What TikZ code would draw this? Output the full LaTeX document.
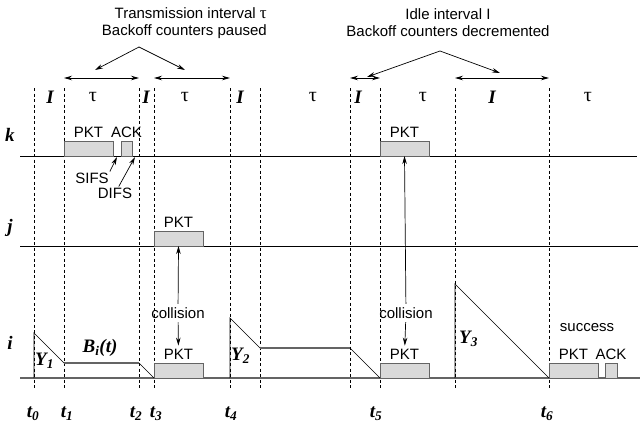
\documentclass[tikz,border=0pt]{standalone}
\usepackage{fontspec}
\setmainfont{Liberation Sans}
\newfontfamily\tms{Liberation Serif}
\usetikzlibrary{arrows.meta, positioning}
\definecolor{siggrey}{RGB}{100,100,100}
\definecolor{boxgrey}{RGB}{217,217,217}

\begin{document}
\begin{tikzpicture}[
  x=1pt, y=-1pt,
  font=\fontsize{15}{17}\selectfont,
  sig/.style={black, line width=0.9pt},
  isig/.style={siggrey, line width=1.3pt},
  ramp/.style={black, line width=0.7pt},
  slot/.style={black, dash pattern=on 3pt off 2.5pt, line width=0.7pt},
  pkt/.style={draw=siggrey, fill=boxgrey, line width=0.9pt, inner sep=0pt,
              outer sep=0pt, minimum height=15pt, anchor=south west},
  span/.style={{Stealth[length=8pt,width=4.5pt]}-{Stealth[length=8pt,width=4.5pt]},
               line width=0.8pt},
  pnt/.style={-{Stealth[length=8pt,width=4.5pt]}, line width=0.7pt},
  sym/.style={font=\tms\fontsize{19}{19}\selectfont\bfseries\itshape},
  gk/.style={font=\tms\fontsize{20}{20}\selectfont},
  small/.style={inner sep=1pt}
]
\useasboundingbox (0,0) rectangle (640,423);

% ── slot boundaries ──
\foreach \n/\x in {0/34,1/64,2/139,3/154,4/230,5/260,6/350,7/380,8/455,9/549} {
  \coordinate (s\n) at (\x,88);
  \draw[slot] (s\n) -- (\x,390);
}

% ── slot labels ──
\foreach \x in {50,146,240,358,492}
  \node[sym] (idle\x) at (\x,97) {I};
\foreach \x in {93,185,313,423,588}
  \node[gk] (busy\x) at (\x,97) {τ};

% ── interval arrows ──
\draw[span] ([yshift=10pt]s1) -- ([yshift=10pt]s2);
\draw[span] ([yshift=10pt]s3) -- ([yshift=10pt]s4);
\draw[span] ([yshift=10pt]s6) -- ([yshift=10pt]s7);
\draw[span] ([yshift=10pt]s8) -- ([yshift=10pt]s9);

% ── annotations ──
\node[align=right, anchor=east, inner sep=0pt] (txlbl) at (267,23)
  {Transmission interval {\tms\fontsize{17}{17}\selectfont τ}\\Backoff counters paused};
\node[align=center, inner sep=0pt] (idlbl) at (448,23)
  {Idle interval I\\Backoff counters decremented};
\coordinate (txtop) at (139,47);
\coordinate (txa)   at (95,70);
\coordinate (txb)   at (185,70);
\coordinate (idtop) at (440,51);
\coordinate (ida)   at (367,77);
\coordinate (idb)   at (500,73);
\draw[pnt] (txtop) -- (txa);
\draw[pnt] (txtop) -- (txb);
\draw[pnt] (idtop) -- (ida);
\draw[pnt] (idtop) -- (idb);

% ── station labels ──
\node[sym] (klbl) at (10,135) {k};
\node[sym] (jlbl) at (10,228) {j};
\node[sym] (ilbl) at (10,343) {i};

% ── timelines ──
\draw[sig]  (20,156) -- (637,156);
\draw[sig]  (20,246) -- (638,246);
\draw[isig] (20,378) -- (640,378);

% ── packets ──
\node[pkt, minimum width=49pt] (kpkt)  at (64,156)  {};
\node[pkt, minimum width=11pt] (kack)  at (121,156) {};
\node[pkt, minimum width=49pt] (kpkt2) at (380,156) {};
\node[pkt, minimum width=49pt] (jpkt)  at (154,246) {};
\node[pkt, minimum width=49pt] (ipkt)  at (154,378) {};
\node[pkt, minimum width=49pt] (ipkt2) at (380,378) {};
\node[pkt, minimum width=49pt] (ipkt3) at (549,378) {};
\node[pkt, minimum width=12pt] (iack)  at (605,378) {};

\node[above=0pt of kpkt]  (kpktl)  {PKT};
\node[above=0pt of kack]  (kackl)  {ACK};
\node[above=0pt of kpkt2] (kpkt2l) {PKT};
\node[above=0pt of jpkt]  (jpktl)  {PKT};
\node[above=0pt of ipkt]  (ipktl)  {PKT};
\node[above=0pt of ipkt2] (ipkt2l) {PKT};
\node[above=0pt of ipkt3] (ipkt3l) {PKT};
\node[above=0pt of iack]  (iackl)  {ACK};
\node (succ) at (587,328) {success};

% ── inter-frame spaces ──
\node[small] (sifs) at (92,178) {SIFS};
\node[small] (difs) at (115,193) {DIFS};
\coordinate (sifsgap) at (117,157);
\coordinate (difsgap) at (135,157);
\draw[pnt] (sifs.north east) -- (sifsgap);
\draw[pnt] (difs.60) -- (difsgap);

% ── backoff counter of i ──
\draw[ramp] (34,378) -- (34,333) -- (64,363);
\draw[isig] (64,363) -- (139,363);
\draw[ramp] (139,363) -- (154,378);
\draw[ramp] (230,378) -- (230,318) -- (260,348);
\draw[isig] (260,348) -- (350,348);
\draw[ramp] (350,348) -- (380,378);
\draw[ramp] (455,378) -- (455,284) -- (549,378);

\node[sym, anchor=west, inner sep=0pt] (y1) at (35,361) {Y\textsubscript{1}};
\node[sym, anchor=west, inner sep=0pt] (y2) at (231,356) {Y\textsubscript{2}};
\node[sym, anchor=west, inner sep=0pt] (y3) at (459,339) {Y\textsubscript{3}};
\node[sym] (bi) at (100,348) {B\textsubscript{i}(t)};

% ── collisions ──
\node (col1) at (178,313) {collision};
\node (col2) at (406,313) {collision};
\draw[pnt] (col1) -- (jpkt.south);
\draw[pnt] (col1) -- (ipktl);
\draw[pnt] (col2) -- (kpkt2.south);
\draw[pnt] (col2) -- (ipkt2l);

% ── time instants ──
\foreach \n/\x in {0/33,1/67,2/136,3/156,4/231,5/376,6/547}
  \node[sym] (t\n) at (\x,414) {t\textsubscript{\n}};

\end{tikzpicture}
\end{document}
